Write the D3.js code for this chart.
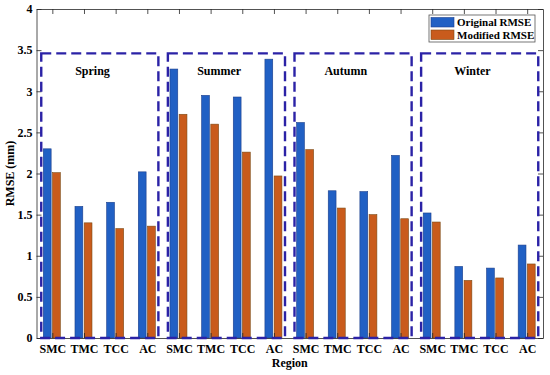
<!DOCTYPE html>
<html>
<head>
<meta charset="utf-8">
<script src="https://cdn.jsdelivr.net/npm/d3@7"></script>
<style>
  body { margin: 0; background: #fff; }
  text { font-family: "Liberation Serif", "Times New Roman", serif; font-weight: bold; }
</style>
</head>
<body>
<svg id="canvas" width="550" height="375"></svg>
<script>
var regions = ["SMC", "TMC", "TCC", "AC"];
var seasons = ["Spring", "Summer", "Autumn", "Winter"];
var seriesNames = ["Original RMSE", "Modified RMSE"];
var yTicks = [0, 0.5, 1, 1.5, 2, 2.5, 3, 3.5, 4];

// RMSE per season, in region order SMC, TMC, TCC, AC
var originalRmse = [2.30, 1.60, 1.65, 2.02,
                    3.27, 2.95, 2.93, 3.39,
                    2.62, 1.79, 1.78, 2.22,
                    1.52, 0.87, 0.85, 1.13];
var modifiedRmse = [2.01, 1.40, 1.33, 1.36,
                    2.72, 2.60, 2.26, 1.97,
                    2.29, 1.58, 1.50, 1.45,
                    1.41, 0.70, 0.73, 0.90];

var colors = ["#2160c4", "#c95b1c"],
    edges = ["#1c3f8c", "#7a4a14"],
    boxColor = "#2b22a6",
    axisColor = "#262626";

var svg = d3.select("#canvas"),
    plotLeft = 36.5, plotRight = 543, plotTop = 9, plotBottom = 338;

var x = d3.scaleLinear().domain([0.5, 16.5]).range([plotLeft, plotRight]);
var y = d3.scaleLinear().domain([0, 4]).range([plotBottom, plotTop]);
var xSub = d3.scaleBand().domain([0, 1]).range([-9, 8]).paddingInner(0.15);

var bars = [];
originalRmse.forEach(function(v, i) {
  bars.push({i: i + 1, s: 0, v: v});
  bars.push({i: i + 1, s: 1, v: modifiedRmse[i]});
});

svg.append("g")
  .selectAll("rect")
  .data(bars)
  .enter()
  .append("rect")
  .attr("x", function(d) { return x(d.i) + xSub(d.s); })
  .attr("y", function(d) { return y(d.v); })
  .attr("width", xSub.bandwidth())
  .attr("height", function(d) { return y(0) - y(d.v); })
  .style("fill", function(d) { return colors[d.s]; })
  .style("stroke", function(d) { return edges[d.s]; })
  .style("stroke-width", 0.6);

/*
  Axes, ticks pointing inward like MATLAB
*/
var catIdx = d3.range(1, 17);

var xAxis = svg.append("g")
  .attr("transform", "translate(0," + plotBottom + ")")
  .call(d3.axisBottom(x).tickValues(catIdx)
    .tickFormat(function(d) { return regions[(d - 1) % 4]; })
    .tickSizeInner(-5).tickSizeOuter(0).tickPadding(6));

var topAxis = svg.append("g")
  .attr("transform", "translate(0," + plotTop + ")")
  .call(d3.axisTop(x).tickValues(catIdx).tickFormat("")
    .tickSizeInner(-5).tickSizeOuter(0));

var yAxis = svg.append("g")
  .attr("transform", "translate(" + plotLeft + ",0)")
  .call(d3.axisLeft(y).tickValues(yTicks)
    .tickFormat(function(d) { return d; })
    .tickSizeInner(-5).tickSizeOuter(0).tickPadding(4));

var rightAxis = svg.append("g")
  .attr("transform", "translate(" + plotRight + ",0)")
  .call(d3.axisRight(y).tickValues(yTicks).tickFormat("")
    .tickSizeInner(-5).tickSizeOuter(0));

[xAxis, topAxis, yAxis, rightAxis].forEach(function(g) {
  g.select(".domain").style("stroke", axisColor).style("stroke-width", 0.8);
  g.selectAll(".tick line").style("stroke", axisColor).style("stroke-width", 0.8);
  g.selectAll("text")
    .style("font-family", "'Liberation Serif', serif")
    .style("font-weight", "bold")
    .style("font-size", "12px")
    .style("fill", "#000");
});

/*
  Dashed season boxes and labels
*/
var seasonGroups = svg.append("g")
  .selectAll("g")
  .data(seasons)
  .enter()
  .append("g");

seasonGroups.append("rect")
  .attr("x", function(d, k) { return x(4 * k + 1 - 0.35); })
  .attr("y", y(3.46))
  .attr("width", function(d, k) { return x(4 * k + 4 + 0.35) - x(4 * k + 1 - 0.35); })
  .attr("height", y(0) - y(3.46))
  .style("fill", "none")
  .style("stroke", boxColor)
  .style("stroke-width", 2.4)
  .style("stroke-dasharray", "10,5");

seasonGroups.append("text")
  .attr("x", function(d, k) { return x(4 * k + 2.27); })
  .attr("y", y(3.25))
  .attr("dy", "0.35em")
  .attr("text-anchor", "middle")
  .style("font-size", "12px")
  .text(function(d) { return d; });

/*
  Axis titles
*/
svg.append("text")
  .attr("x", (plotLeft + plotRight) / 2)
  .attr("y", 367)
  .attr("text-anchor", "middle")
  .style("font-size", "12px")
  .text("Region");

svg.append("text")
  .attr("transform", "translate(14," + ((plotTop + plotBottom) / 2) + ") rotate(-90)")
  .attr("text-anchor", "middle")
  .style("font-size", "12px")
  .text("RMSE (mm)");

/*
  Legend
*/
var legend = svg.append("g").attr("transform", "translate(429,15)");

legend.append("rect")
  .attr("width", 106)
  .attr("height", 27)
  .style("fill", "#fff")
  .style("stroke", "#555")
  .style("stroke-width", 0.8);

var item = legend.selectAll("g.item")
  .data(seriesNames)
  .enter()
  .append("g")
  .attr("class", "item")
  .attr("transform", function(d, i) { return "translate(2," + (2.5 + i * 12.5) + ")"; });

item.append("rect")
  .attr("width", 23)
  .attr("height", 9.5)
  .style("fill", function(d, i) { return colors[i]; })
  .style("stroke", function(d, i) { return edges[i]; })
  .style("stroke-width", 0.6);

item.append("text")
  .attr("x", 26)
  .attr("y", 5)
  .attr("dy", "0.35em")
  .style("font-size", "11px")
  .text(function(d) { return d; });
</script>
</body>
</html>
